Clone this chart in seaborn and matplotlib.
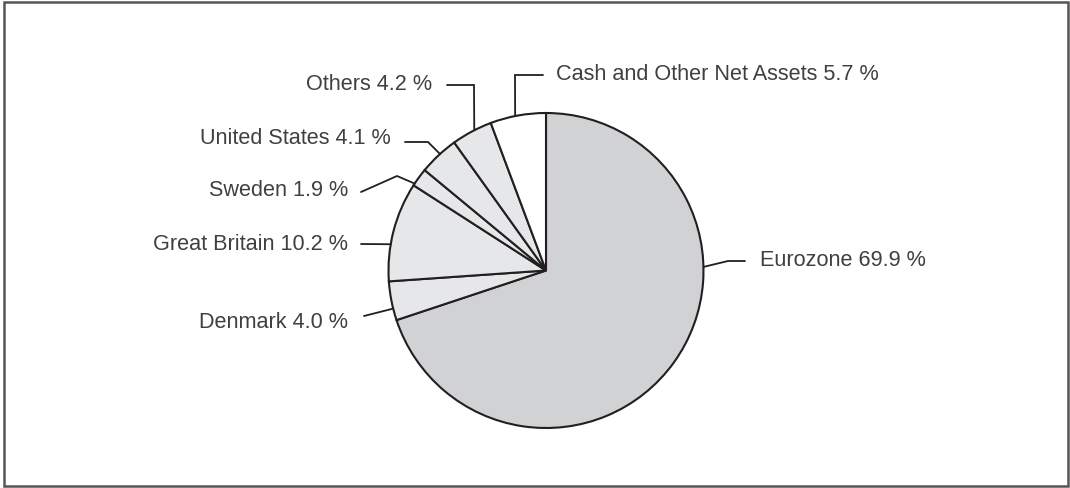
import numpy as np
import matplotlib
matplotlib.use("Agg")
import matplotlib.pyplot as plt
import seaborn as sns
from matplotlib.patches import Rectangle

# ---- data ----
categories = ["Eurozone", "Denmark", "Great Britain", "Sweden",
              "United States", "Others", "Cash and Other Net Assets"]
shares = [69.9, 4.0, 10.2, 1.9, 4.1, 4.2, 5.7]
labels = ["Eurozone 69.9 %", "Denmark 4.0 %", "Great Britain 10.2 %", "Sweden 1.9 %",
          "United States 4.1 %", "Others 4.2 %", "Cash and Other Net Assets 5.7 %"]

# ---- style ----
sns.set_theme(style="white")
plt.rcParams['font.family'] = ['Liberation Sans', 'DejaVu Sans']

W, H = 1070, 488
fig = plt.figure(figsize=(W / 100, H / 100), dpi=100)
ax = fig.add_axes([0, 0, 1, 1])

def Y(y):
    return H - y

colors = ["#d1d2d4", "#e6e7e8", "#e6e7e8", "#e6e7e8", "#e6e7e8", "#e6e7e8", "#ffffff"]
edge = "#231f20"
cx, cy, R = 546, 270.5, 157.5

ax.pie(shares, colors=colors, startangle=90, counterclock=False,
       radius=R, center=(cx, Y(cy)), frame=True,
       wedgeprops=dict(edgecolor=edge, linewidth=1.5, joinstyle="miter"))

# ---- leader lines (layout) ----
anchor_angles = [1.3, 194, 170.4, 146.5, 132.3, 117.1, 101.3]
elbows = [
    [(728, 261), (745, 261)],
    [(364, 316)],
    [(361, 244)],
    [(397, 176), (361, 192)],
    [(428, 142), (405, 142)],
    [(474, 85), (447, 85)],
    [(515, 75), (543, 75)],
]
text_pos = [(760, 261, "left"), (348, 323, "right"), (348, 245, "right"),
            (348, 191, "right"), (391, 138, "right"), (432, 84, "right"),
            (556, 75, "left")]

for ang, pts, (tx, ty, ha), lab in zip(anchor_angles, elbows, text_pos, labels):
    a = np.deg2rad(ang)
    ax0 = cx + R * np.cos(a)
    ay0 = cy - R * np.sin(a)
    xs = [ax0] + [p[0] for p in pts]
    ys = [Y(ay0)] + [Y(p[1]) for p in pts]
    ax.plot(xs, ys, color=edge, linewidth=1.3, solid_joinstyle="miter")
    ax.text(tx, Y(ty), lab, ha=ha, va="center", fontsize=15.6, color="#404040")

# frame
ax.add_patch(Rectangle((4, Y(486)), 1064, 484, fill=False, edgecolor="#555555", linewidth=1.8))

ax.set_xlim(0, W)
ax.set_ylim(0, H)
ax.set_aspect("equal")
ax.axis("off")

fig.savefig("out.png", dpi=100, facecolor="white")
